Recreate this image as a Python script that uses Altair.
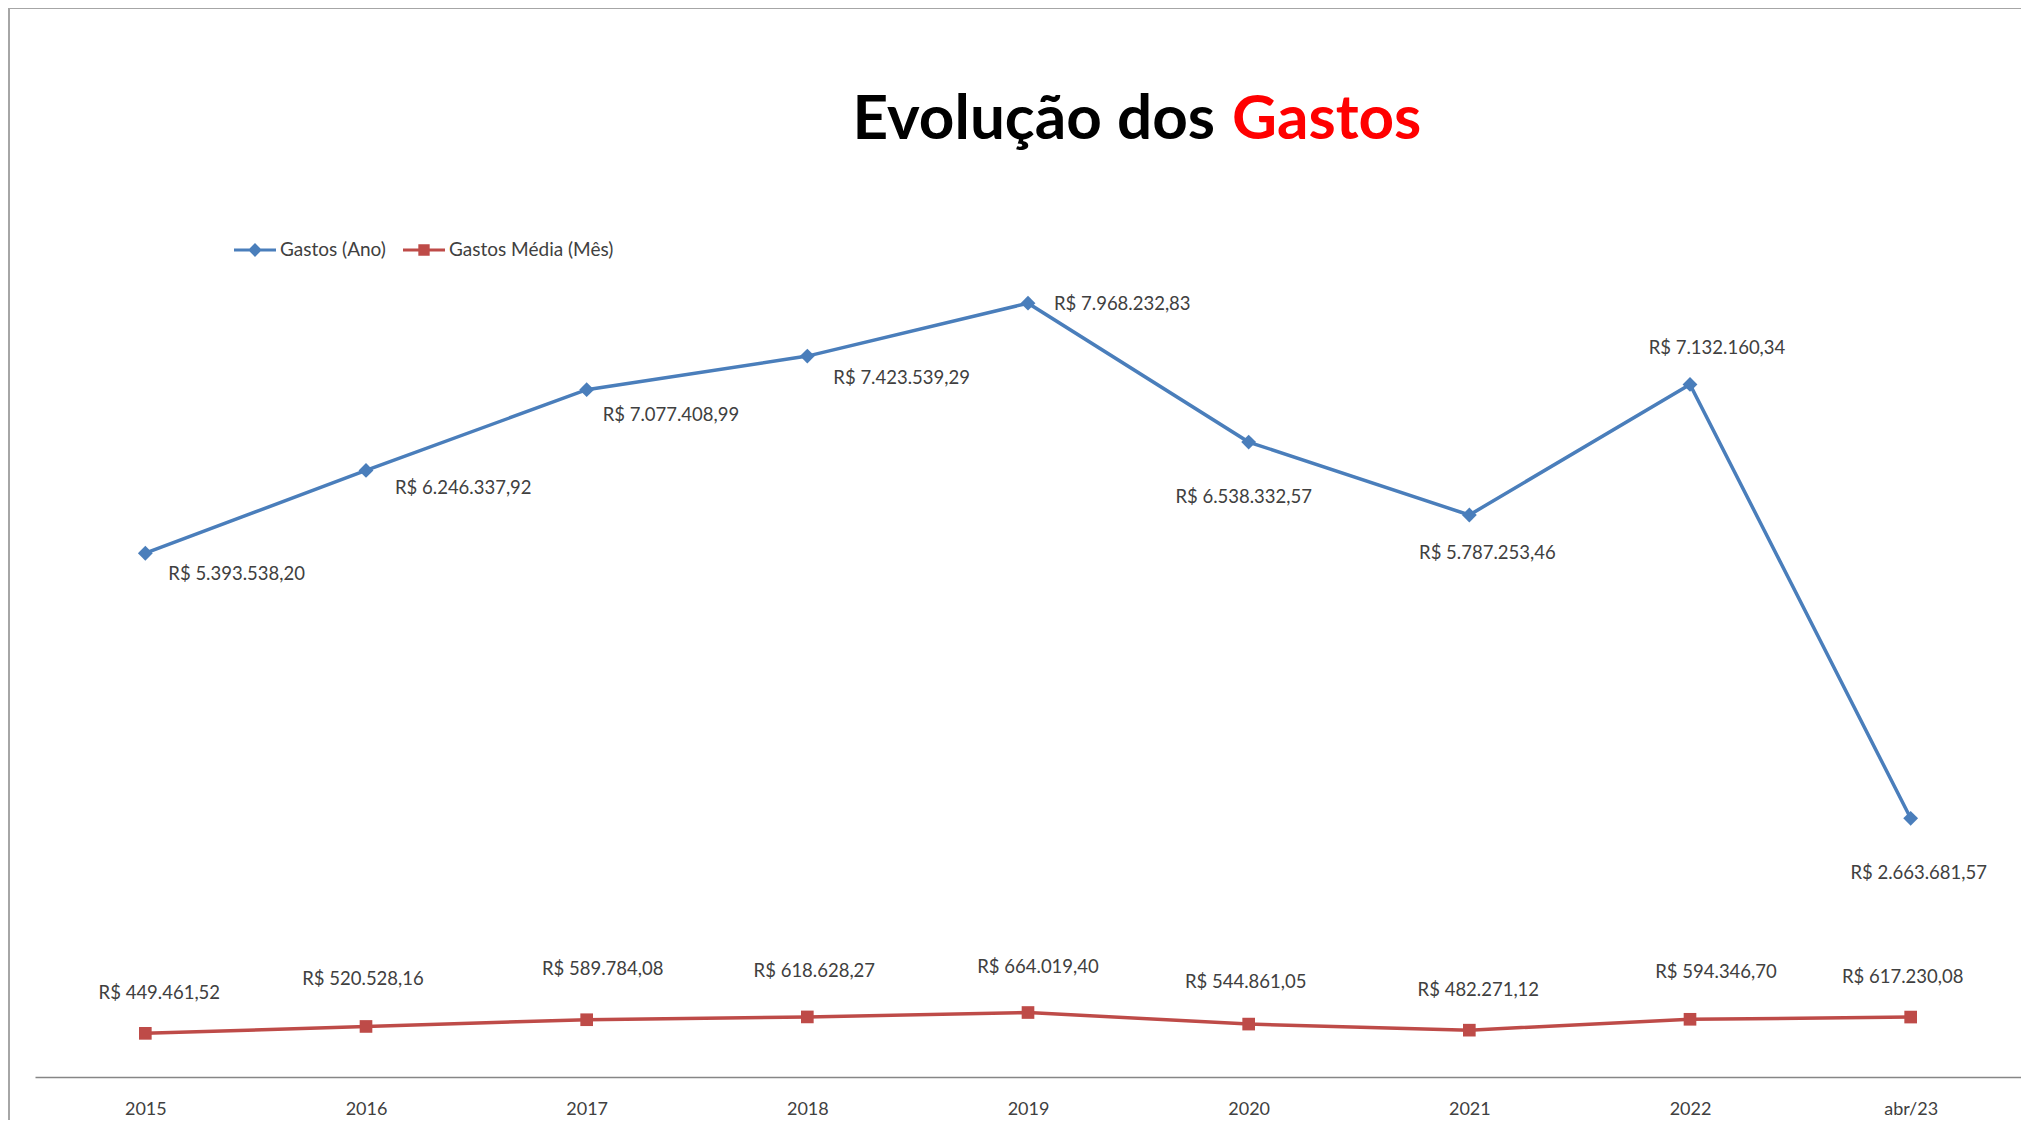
import altair as alt
import pandas as pd

# ---------------- data ----------------
periodos = ["2015", "2016", "2017", "2018", "2019", "2020", "2021", "2022", "abr/23"]
gastos_ano = [5393538.20, 6246337.92, 7077408.99, 7423539.29, 7968232.83,
              6538332.57, 5787253.46, 7132160.34, 2663681.57]
gastos_media = [449461.52, 520528.16, 589784.08, 618628.27, 664019.40,
                544861.05, 482271.12, 594346.70, 617230.08]
series = ["Gastos (Ano)", "Gastos Média (Mês)"]
cores = ["#4a7ebb", "#be4b48"]


def brl(v):
    s = f"{v:,.2f}".replace(",", "X").replace(".", ",").replace("X", ".")
    return "R$ " + s


rows = []
for p, a, m in zip(periodos, gastos_ano, gastos_media):
    rows.append({"Período": p, "Série": series[0], "Valor": a, "Rótulo": brl(a)})
    rows.append({"Período": p, "Série": series[1], "Valor": m, "Rótulo": brl(m)})
df = pd.DataFrame(rows)

# manual data-label placement (align, dx, dy) as in the original spreadsheet chart
label_place_ano = {
    "2015": ("left", 23, 21), "2016": ("left", 29, 18), "2017": ("left", 16, 25),
    "2018": ("left", 26, 22), "2019": ("left", 26, 1), "2020": ("center", -5, 55),
    "2021": ("center", 18, 38), "2022": ("center", 27, -36), "abr/23": ("center", 8, 55),
}
label_place_mes = {
    "2015": ("center", 14, -40), "2016": ("center", -3, -47), "2017": ("center", 16, -51),
    "2018": ("center", 7, -46), "2019": ("center", 10, -46), "2020": ("center", -3, -42),
    "2021": ("center", 9, -40), "2022": ("center", 26, -47), "abr/23": ("center", -8, -40),
}

FONT = "Lato"
TXT = "#404040"
W, H = 1986, 874
LFS = 18.5

x = alt.X("Período:N", sort=periodos,
          scale=alt.Scale(type="point", padding=0.5, domain=periodos),
          axis=alt.Axis(title=None, labelAngle=0, ticks=False, grid=False,
                        domainColor="#868686", domainWidth=1.5,
                        labelPadding=23, labelFontSize=18, labelFont=FONT,
                        labelColor=TXT))
y = alt.Y("Valor:Q", scale=alt.Scale(domain=[0, 9000000], nice=False, zero=True), axis=None)
color_nl = alt.Color("Série:N", scale=alt.Scale(domain=series, range=cores), legend=None)

base = alt.Chart(df)

lines = base.mark_line(strokeWidth=3.5).encode(x=x, y=y, color=color_nl)

pts_ano = base.transform_filter(alt.datum["Série"] == series[0]).mark_point(
    shape="diamond", filled=True, size=220, opacity=1).encode(x=x, y=y, color=color_nl)
pts_mes = base.transform_filter(alt.datum["Série"] == series[1]).mark_point(
    shape="square", filled=True, size=160, opacity=1).encode(x=x, y=y, color=color_nl)


def label(serie, cat, align, dx, dy):
    return (base
            .transform_filter(alt.FieldEqualPredicate(field="Série", equal=serie))
            .transform_filter(alt.FieldEqualPredicate(field="Período", equal=cat))
            .mark_text(align=align, baseline="middle", dx=dx, dy=dy, font=FONT,
                       fontSize=LFS, color=TXT)
            .encode(x=x, y=y, text="Rótulo:N"))


lab_layers = [label(series[0], c, *label_place_ano[c]) for c in periodos] + \
             [label(series[1], c, *label_place_mes[c]) for c in periodos]

# legend-only layer (empty data, fixed domain, own scales)
line_diamond = "M-1,-0.075L1,-0.075L1,0.075L-1,0.075Z M0,-0.33L0.33,0L0,0.33L-0.33,0Z"
line_square = "M-1,-0.075L1,-0.075L1,0.075L-1,0.075Z M-0.27,-0.27L0.27,-0.27L0.27,0.27L-0.27,0.27Z"
leg = alt.Legend(title=None, orient="none", legendX=199, legendY=26, direction="horizontal",
                 labelFont=FONT, labelFontSize=19, labelColor=TXT, symbolSize=1764,
                 labelOffset=4, columnPadding=17, symbolStrokeWidth=0, labelLimit=500)
legend_layer = base.transform_filter("false").mark_point(filled=True, opacity=1).encode(
    x=x, y=y,
    color=alt.Color("Série:N", scale=alt.Scale(domain=series, range=cores), legend=leg),
    shape=alt.Shape("Série:N", scale=alt.Scale(domain=series, range=[line_diamond, line_square]),
                    legend=leg),
)

one = alt.Data(values=[{"k": 1}])
BORDER = "#a6a6a6"
border_top = alt.Chart(one).mark_rule(stroke=BORDER, strokeWidth=2).encode(
    x=alt.value(-26), x2=alt.value(W + 20), y=alt.value(-195))
border_left = alt.Chart(one).mark_rule(stroke=BORDER, strokeWidth=2).encode(
    x=alt.value(-26), y=alt.value(-195), y2=alt.value(H + 60))
title1 = alt.Chart(one).mark_text(text="Evolução dos", align="right", baseline="alphabetic",
                                  font=FONT, fontSize=62, fontWeight="bold", color="black").encode(
    x=alt.value(1180), y=alt.value(-64))
title2 = alt.Chart(one).mark_text(text="Gastos", align="left", baseline="alphabetic",
                                  font=FONT, fontSize=62, fontWeight="bold", color="#ff0000").encode(
    x=alt.value(1197), y=alt.value(-64))

chart = alt.layer(border_top, border_left, lines, pts_ano, pts_mes, *lab_layers,
                  legend_layer, title1, title2).resolve_scale(
    color="independent", shape="independent"
).properties(
    width=W, height=H,
    autosize=alt.AutoSizeParams(type="none"),
    padding={"left": 27, "top": 195, "right": 0, "bottom": 43},
    background="white",
).configure_view(strokeWidth=0)

chart.save("out.html", embed_options={"renderer": "svg", "actions": False})
